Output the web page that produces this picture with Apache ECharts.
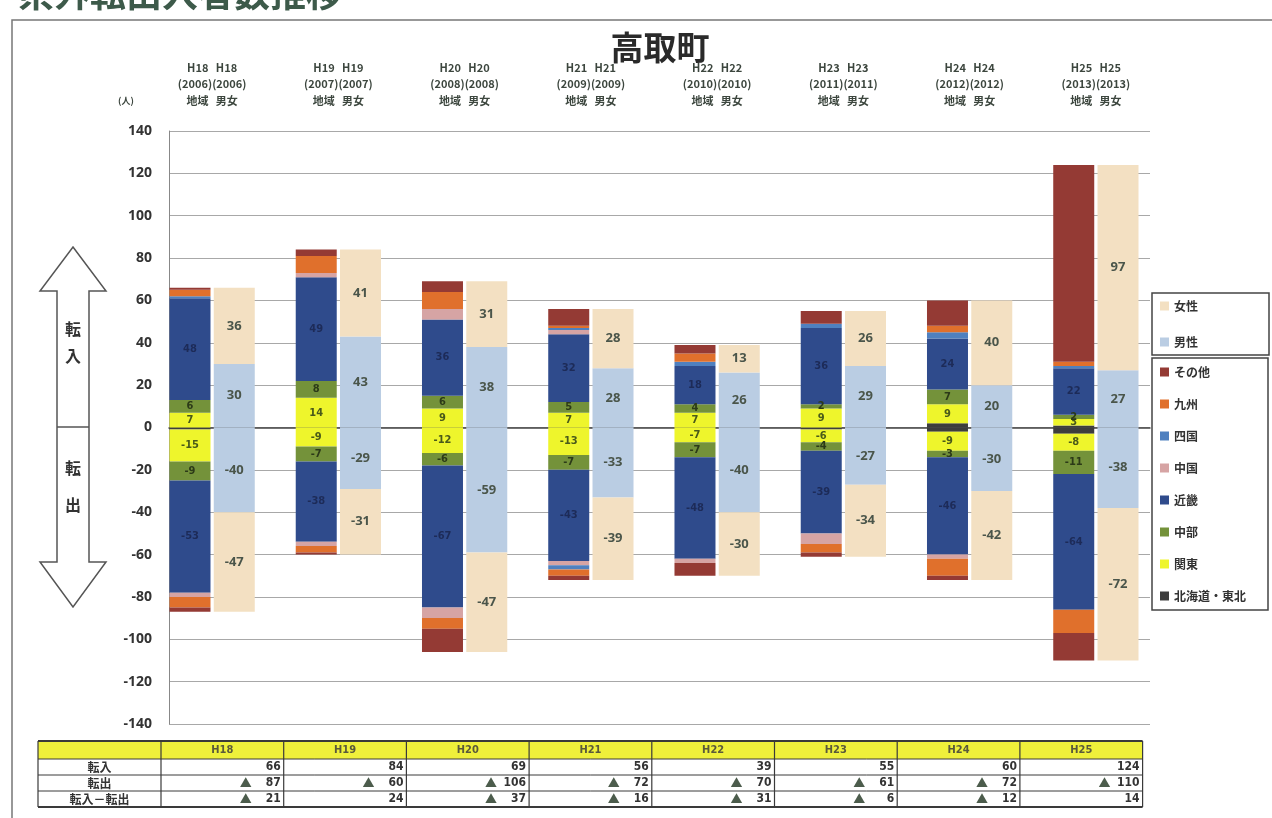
<!DOCTYPE html>
<html>
<head>
<meta charset="utf-8">
<script src="https://cdn.jsdelivr.net/npm/echarts@6/dist/echarts.min.js"></script>
<style>
  html, body { margin: 0; background: #fff; }
  #chart { width: 1272px; height: 818px; }
</style>
</head>
<body>
<div id="chart"></div>
<script>
// 年度
const years = ['H18', 'H19', 'H20', 'H21', 'H22', 'H23', 'H24', 'H25'];
const westernYears = ['2006', '2007', '2008', '2009', '2010', '2011', '2012', '2013'];

// 地域別（積み上げ順：下から）
const regionNames = ['北海道・東北', '関東', '中部', '近畿', '中国', '四国', '九州', 'その他'];
const regionColors = ['#3d3d3d', '#eef52c', '#74923a', '#2f4b8c', '#d6a4a4', '#4f80bf', '#e0702c', '#943a34'];

const inHokkaidoTohoku = [0, 0, 0, 0, 0, 0, 2, 1];
const inKanto = [7, 14, 9, 7, 7, 9, 9, 3];
const inChubu = [6, 8, 6, 5, 4, 2, 7, 2];
const inKinki = [48, 49, 36, 32, 18, 36, 24, 22];
const inChugoku = [0, 2, 5, 2, 0, 0, 0, 0];
const inShikoku = [1, 0, 0, 1, 2, 2, 3, 1];
const inKyushu = [3, 8, 8, 1, 4, 0, 3, 2];
const inOther = [1, 3, 5, 8, 4, 6, 12, 93];

const outHokkaidoTohoku = [-1, 0, 0, 0, 0, -1, -2, -3];
const outKanto = [-15, -9, -12, -13, -7, -6, -9, -8];
const outChubu = [-9, -7, -6, -7, -7, -4, -3, -11];
const outKinki = [-53, -38, -67, -43, -48, -39, -46, -64];
const outChugoku = [-2, -2, -5, -2, -2, -5, -2, 0];
const outShikoku = [0, 0, 0, -2, 0, 0, 0, 0];
const outKyushu = [-5, -3, -5, -3, 0, -4, -8, -11];
const outOther = [-2, -1, -11, -2, -6, -2, -2, -13];

// 男女別
const maleIn = [30, 43, 38, 28, 26, 29, 20, 27];
const femaleIn = [36, 41, 31, 28, 13, 26, 40, 97];
const maleOut = [-40, -29, -59, -33, -40, -27, -30, -38];
const femaleOut = [-47, -31, -47, -39, -30, -34, -42, -72];

// 表
const tableInflow = [66, 84, 69, 56, 39, 55, 60, 124];
const tableOutflow = [-87, -60, -106, -72, -70, -61, -72, -110];
const tableNet = [-21, 24, -37, -16, -31, -6, -12, 14];

const yTicks = { min: -140, max: 140, interval: 20 };

const regionIn = [inHokkaidoTohoku, inKanto, inChubu, inKinki, inChugoku, inShikoku, inKyushu, inOther];
const regionOut = [outHokkaidoTohoku, outKanto, outChubu, outKinki, outChugoku, outShikoku, outKyushu, outOther];

const textColor = '#3c463e';
const cjk = '"Noto Sans CJK JP", "Noto Sans", sans-serif';
const narrow = '"Liberation Sans Narrow", "DejaVu Sans Condensed", sans-serif';

let myChart = echarts.init(document.getElementById('chart'));

// 地域ラベル（関東・中部・近畿のみ）
function regionLabel(i) {
  const labelColors = { 1: '#4a5a1a', 2: '#2c3a18', 3: '#1d2b58' };
  const show = i >= 1 && i <= 3;
  return {
    show: show,
    color: labelColors[i],
    fontSize: 11,
    fontWeight: 'bold',
    fontFamily: narrow,
    formatter: p => (Math.abs(p.value) >= 2 ? p.value : '')
  };
}

let series = [];
regionNames.forEach((name, i) => {
  [regionIn[i], regionOut[i]].forEach(d => {
    series.push({
      name: name,
      type: 'bar',
      stack: 'region',
      xAxisIndex: 1,
      yAxisIndex: 1,
      barWidth: 41,
      barGap: '8%',
      itemStyle: { color: regionColors[i] },
      label: regionLabel(i),
      data: d
    });
  });
});

const genderLabel = {
  show: true,
  color: '#4a554a',
  fontSize: 13,
  fontWeight: 'bold',
  fontFamily: '"Open Sans", sans-serif'
};
[['男性', '#bacde3', maleIn], ['男性', '#bacde3', maleOut],
 ['女性', '#f3e0c2', femaleIn], ['女性', '#f3e0c2', femaleOut]].forEach(s => {
  series.push({
    name: s[0],
    type: 'bar',
    stack: 'gender',
    xAxisIndex: 1,
    yAxisIndex: 1,
    barWidth: 41,
    barGap: '8%',
    itemStyle: { color: s[1] },
    label: genderLabel,
    data: s[2]
  });
});

// 表を描く
function buildTable() {
  const x0 = 38, x1 = 161, colW = 122.7;
  const rowsY = [741, 759, 775, 791, 807];
  const xEnd = x1 + colW * years.length;
  let els = [];
  els.push({ type: 'rect', shape: { x: x0, y: rowsY[0], width: xEnd - x0, height: rowsY[1] - rowsY[0] },
    style: { fill: '#eff03a' } });
  rowsY.forEach((y, k) => {
    els.push({ type: 'line', shape: { x1: x0, y1: y, x2: xEnd, y2: y },
      style: { stroke: '#3a3a3a', lineWidth: k === 0 || k === 4 ? 2 : 1 } });
  });
  let xs = [x0, x1];
  years.forEach((_, i) => xs.push(x1 + colW * (i + 1)));
  xs.forEach(x => {
    els.push({ type: 'line', shape: { x1: x, y1: rowsY[0], x2: x, y2: rowsY[4] },
      style: { stroke: '#3a3a3a', lineWidth: 1.2 } });
  });
  years.forEach((y, i) => {
    els.push({ type: 'text', x: x1 + colW * (i + 0.5), y: (rowsY[0] + rowsY[1]) / 2,
      style: { text: y, fill: '#5a5a3a', font: 'bold 11px ' + narrow, align: 'center', verticalAlign: 'middle' } });
  });
  const rowLabels = ['転入', '転出', '転入－転出'];
  const rowData = [tableInflow, tableOutflow, tableNet];
  rowLabels.forEach((lab, r) => {
    const cy = (rowsY[r + 1] + rowsY[r + 2]) / 2;
    els.push({ type: 'text', x: (x0 + x1) / 2, y: cy,
      style: { text: lab, fill: '#333', font: 'bold 12px ' + cjk, align: 'center', verticalAlign: 'middle' } });
    rowData[r].forEach((v, i) => {
      const right = x1 + colW * (i + 1) - 3;
      els.push({ type: 'text', x: right, y: cy,
        style: { text: String(Math.abs(v)), fill: '#333', font: 'bold 12px ' + narrow, align: 'right', verticalAlign: 'middle' } });
      if (v < 0) {
        els.push({ type: 'text', x: right - 29, y: cy,
          style: { text: '▲', fill: '#4c5c4c', font: 'bold 12px ' + cjk, align: 'right', verticalAlign: 'middle' } });
      }
    });
  });
  return els;
}

// 左の矢印
const arrow = {
  type: 'polygon',
  shape: {
    points: [[73, 247], [106, 291], [89, 291], [89, 562], [106, 562], [73, 607],
             [40, 562], [57, 562], [57, 291], [40, 291]]
  },
  style: { fill: '#fff', stroke: '#555', lineWidth: 1.5 }
};

myChart.setOption({
  backgroundColor: '#fff',
  animation: false,
  title: {
    text: '高取町',
    left: 655,
    top: 26,
    textAlign: 'center',
    textStyle: { fontSize: 33, fontWeight: 'bold', color: '#2a2a2a', fontFamily: cjk }
  },
  legend: [
    {
      data: ['女性', '男性'],
      orient: 'vertical',
      left: 1152,
      top: 293,
      padding: [7, 71, 7, 8],
      itemGap: 24,
      itemWidth: 9,
      itemHeight: 9,
      icon: 'rect',
      borderColor: '#444',
      borderWidth: 1.5,
      textStyle: { fontSize: 12, fontWeight: 'bold', color: '#333', fontFamily: cjk }
    },
    {
      data: ['その他', '九州', '四国', '中国', '近畿', '中部', '関東', '北海道・東北'],
      orient: 'vertical',
      left: 1152,
      top: 358,
      padding: [8, 22, 8, 8],
      itemGap: 20,
      itemWidth: 9,
      itemHeight: 9,
      icon: 'rect',
      borderColor: '#444',
      borderWidth: 1.5,
      textStyle: { fontSize: 12, fontWeight: 'bold', color: '#333', fontFamily: cjk }
    }
  ],
  grid: [
    { left: 169, right: 122, top: 131, bottom: 94 },
    { left: 149, right: 113, top: 131, bottom: 94 }
  ],
  xAxis: [
    {
      type: 'category',
      gridIndex: 0,
      data: years,
      axisLine: { onZero: true, lineStyle: { color: '#444', width: 1.5 } },
      axisTick: { show: false },
      axisLabel: { show: false }
    },
    {
      type: 'category',
      gridIndex: 1,
      position: 'top',
      data: years,
      axisLine: { show: false, onZero: false },
      axisTick: { show: false },
      axisLabel: {
        margin: 22,
        fontSize: 11,
        fontWeight: 'bold',
        lineHeight: 16.5,
        color: textColor,
        fontFamily: cjk,
        formatter: (v, i) => v + '   ' + v + '\n(' + westernYears[i] + ')(' + westernYears[i] + ')\n地域   男女'
      }
    }
  ],
  yAxis: [
    {
      type: 'value',
      gridIndex: 0,
      min: yTicks.min,
      max: yTicks.max,
      interval: yTicks.interval,
      axisLine: { show: true, lineStyle: { color: '#888' } },
      axisTick: { show: false },
      axisLabel: { margin: 17, fontSize: 14, fontWeight: 'bold', color: '#333', fontFamily: '"Open Sans", sans-serif' },
      splitLine: { lineStyle: { color: '#a8a8a8', width: 1.2 } }
    },
    {
      type: 'value',
      gridIndex: 1,
      min: yTicks.min,
      max: yTicks.max,
      interval: yTicks.interval,
      show: false
    }
  ],
  series: series,
  graphic: [
    { type: 'rect', shape: { x: 12, y: 20, width: 1300, height: 820 }, style: { fill: null, stroke: '#777', lineWidth: 1.5 }, z: -1 },
    { type: 'text', x: 18, y: -25, style: { text: '県外転出入者数推移', fill: '#3d5a4a', font: 'bold 36px ' + cjk } },
    { type: 'text', x: 118, y: 96, style: { text: '(人)', fill: textColor, font: 'bold 9px ' + cjk } },
    arrow,
    { type: 'line', shape: { x1: 57, y1: 427, x2: 89, y2: 427 }, style: { stroke: '#555', lineWidth: 1.5 } },
    { type: 'text', x: 73, y: 329, style: { text: '転', fill: '#333', font: 'bold 16px ' + cjk, align: 'center', verticalAlign: 'middle' } },
    { type: 'text', x: 73, y: 356, style: { text: '入', fill: '#333', font: 'bold 16px ' + cjk, align: 'center', verticalAlign: 'middle' } },
    { type: 'text', x: 73, y: 468, style: { text: '転', fill: '#333', font: 'bold 16px ' + cjk, align: 'center', verticalAlign: 'middle' } },
    { type: 'text', x: 73, y: 505, style: { text: '出', fill: '#333', font: 'bold 16px ' + cjk, align: 'center', verticalAlign: 'middle' } }
  ].concat(buildTable())
});

window.addEventListener('resize', () => {
  myChart.resize();
});
</script>
</body>
</html>
